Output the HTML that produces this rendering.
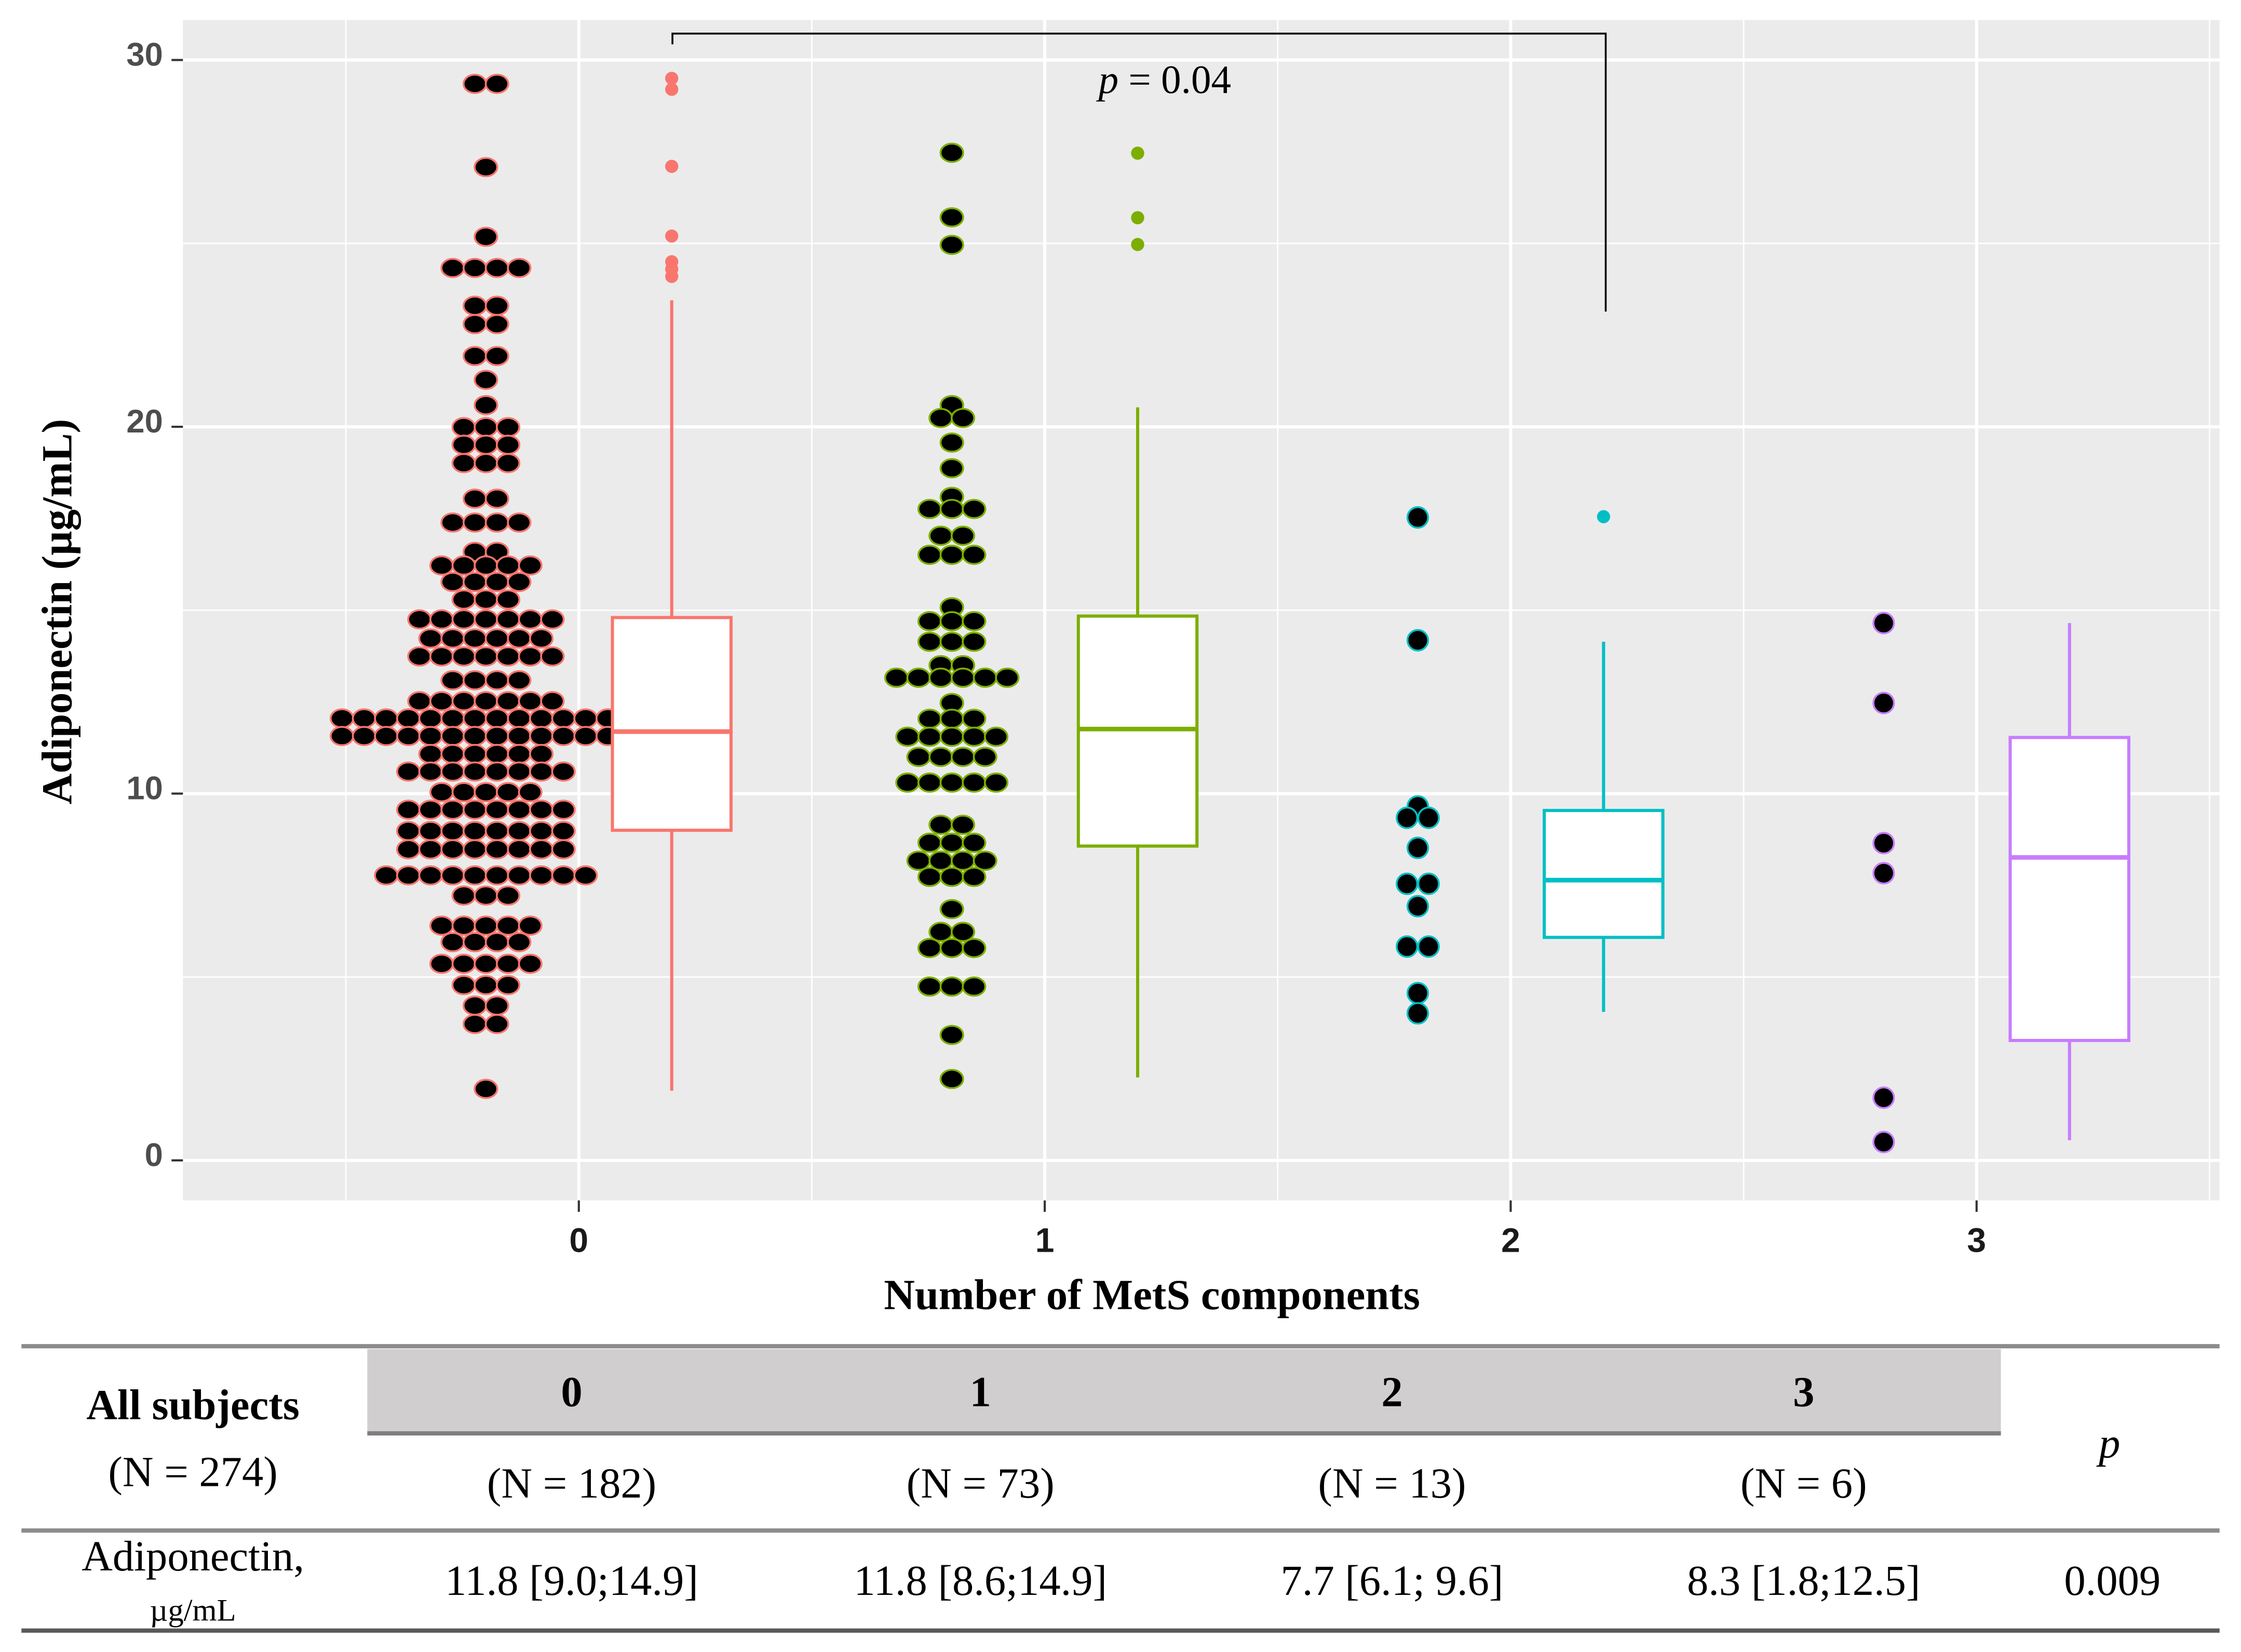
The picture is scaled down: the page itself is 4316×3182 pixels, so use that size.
<!DOCTYPE html>
<html><head><meta charset="utf-8"><style>
html,body{margin:0;padding:0;background:#fff;}
svg{display:block;}
</style></head><body>
<svg id="chart" xmlns="http://www.w3.org/2000/svg" width="4316" height="3182" viewBox="0 0 1568 1156" preserveAspectRatio="none">
<rect x="0" y="0" width="1568" height="1156" fill="#fff"/>
<rect x="128" y="14" width="1425" height="826" fill="#ebebeb"/>
<g id="grid"></g>
<g id="marks"></g>
<g id="axes"></g>
<path d="M470.5 31 V23.5 H1123.5 V218" fill="none" stroke="#000" stroke-width="1.3"/>
<text x="815" y="65" text-anchor="middle" font-family="Liberation Serif, serif" font-size="28"><tspan font-style="italic">p</tspan> = 0.04</text>
<text transform="translate(50,428) rotate(-90)" text-anchor="middle" font-family="Liberation Serif, serif" font-weight="bold" font-size="30">Adiponectin (µg/mL)</text>
<text x="806" y="916" text-anchor="middle" font-family="Liberation Serif, serif" font-weight="bold" font-size="30">Number of MetS components</text>
<g font-family="Liberation Serif, serif" font-size="30" text-anchor="middle" fill="#000">
<line x1="15" y1="942" x2="1553" y2="942" stroke="#8c8c8c" stroke-width="3"/>
<rect x="257" y="944" width="1143" height="59" fill="#d0cece"/>
<line x1="257" y1="1003" x2="1400" y2="1003" stroke="#7f7f7f" stroke-width="3"/>
<text x="135" y="993" font-weight="bold">All subjects</text>
<text x="400" y="984" font-weight="bold">0</text>
<text x="686" y="984" font-weight="bold">1</text>
<text x="974" y="984" font-weight="bold">2</text>
<text x="1262" y="984" font-weight="bold">3</text>
<text x="135" y="1040">(N = 274)</text>
<text x="400" y="1048">(N = 182)</text>
<text x="686" y="1048">(N = 73)</text>
<text x="974" y="1048">(N = 13)</text>
<text x="1262" y="1048">(N = 6)</text>
<text x="1476" y="1020" font-style="italic">p</text>
<line x1="15" y1="1071" x2="1553" y2="1071" stroke="#8c8c8c" stroke-width="3"/>
<text x="135" y="1099">Adiponectin,</text>
<text x="135" y="1134" font-size="22">µg/mL</text>
<text x="400" y="1116">11.8 [9.0;14.9]</text>
<text x="686" y="1116">11.8 [8.6;14.9]</text>
<text x="974" y="1116">7.7 [6.1; 9.6]</text>
<text x="1262" y="1116">8.3 [1.8;12.5]</text>
<text x="1478" y="1116">0.009</text>
<line x1="15" y1="1141" x2="1553" y2="1141" stroke="#595959" stroke-width="3"/>
</g>
</svg>
<script>
const categories = ["0","1","2","3"];
const colors = ["#F8766D","#7CAE00","#00BFC4","#C77CFF"];
const yTicks = [0,10,20,30];
const yMinor = [5,15,25];
const dotVals0 = [29.35,27.08,25.18,24.33,23.3,22.8,21.93,21.28,20.59,19.99,19.51,19.01,18.04,17.39,16.59,16.22,15.77,15.29,14.75,14.23,13.74,13.09,12.52,12.05,11.57,11.08,10.6,10.04,9.56,8.98,8.48,7.77,7.22,6.4,5.95,5.36,4.78,4.22,3.72,1.95];
const dotCnt0 = [2,1,1,4,2,2,2,1,1,3,3,3,2,4,2,5,4,3,7,6,7,4,7,14,14,6,8,5,8,8,8,10,3,5,4,5,3,2,2,1];
const dotVals1 = [27.47,25.71,24.96,20.59,20.24,19.57,18.87,18.09,17.76,17.03,16.51,15.08,14.7,14.14,13.5,13.16,12.47,12.04,11.55,11.0,10.3,9.15,8.66,8.17,7.73,6.85,6.23,5.79,4.74,3.42,2.22];
const dotCnt1 = [1,1,1,1,2,1,1,1,3,2,3,1,3,3,2,6,1,3,5,4,5,2,3,4,3,1,2,3,3,1,1];
const dotVals2 = [17.53,14.18,9.65,9.34,8.52,7.54,6.93,5.83,4.56,4.01];
const dotCnt2 = [1,1,1,2,1,2,1,2,1,1];
const dotVals3 = [14.65,12.47,8.65,7.83,1.71,0.5];
const dotCnt3 = [1,1,1,1,1,1];
const boxLow = [1.9,2.26,4.05,0.55];
const boxQ1 = [9.0,8.57,6.08,3.27];
const boxMed = [11.69,11.76,7.64,8.26];
const boxQ3 = [14.8,14.84,9.54,11.53];
const boxHigh = [23.45,20.53,14.14,14.65];
const outliers0 = [29.5,29.2,27.1,25.2,24.5,24.3,24.1];
const outliers1 = [27.46,25.7,24.97];
const outliers2 = [17.55];
const outliers3 = [];

const NS = "http://www.w3.org/2000/svg";
const yScale = v => 812 - v * 25.667;
const xScale = i => 405 + i * 326;
function mk(tag, attrs, parent){ const e=document.createElementNS(NS,tag); for(const k in attrs) e.setAttribute(k,attrs[k]); parent.appendChild(e); return e; }
const grid=document.getElementById('grid'), marks=document.getElementById('marks'), axes=document.getElementById('axes');

yMinor.forEach(v=>{ const l=mk('line',{x1:128,x2:1553,y1:yScale(v),y2:yScale(v),stroke:'#fff','stroke-width':1},grid);

 });
categories.forEach((c,i)=>{ [-0.5,0.5].forEach(h=>{ if(i>0&&h<0) return; const x=xScale(i+h); const l=mk('line',{x1:x,x2:x,y1:14,y2:840,stroke:'#fff','stroke-width':1},grid);

 }); });
yTicks.forEach(v=>{ const y=yScale(v);
const l=mk('line',{x1:128,x2:1553,y1:y,y2:y,stroke:'#fff','stroke-width':2.2},grid);


const t=mk('line',{x1:120,x2:128,y1:y,y2:y,stroke:'#333','stroke-width':1.5},axes);


const tx=mk('text',{x:114,y:y+4,'text-anchor':'end','font-family':'Liberation Sans, sans-serif','font-weight':'bold','font-size':23,fill:'#4d4d4d'},axes);
tx.textContent=v;

 });
categories.forEach((c,i)=>{ const x=xScale(i);
const l=mk('line',{x1:x,x2:x,y1:14,y2:840,stroke:'#fff','stroke-width':2.2},grid);


const t=mk('line',{x1:x,x2:x,y1:840,y2:848,stroke:'#333','stroke-width':1.5},axes);


const tx=mk('text',{x:x,y:876,'text-anchor':'middle','font-family':'Liberation Sans, sans-serif','font-weight':'bold','font-size':24,fill:'#1a1a1a'},axes);
tx.textContent=c;

 });

const dotVals=[dotVals0,dotVals1,dotVals2,dotVals3], dotCnt=[dotCnt0,dotCnt1,dotCnt2,dotCnt3];
const outl=[outliers0,outliers1,outliers2,outliers3];
categories.forEach((c,g)=>{
  const cx = xScale(g) - 65, bx = xScale(g) + 65, col = colors[g];
  const round = g>=2;
  const rx = round?7.2:7.9, ry = round?7.2:6.4, sp = round?15.1:15.5;
  dotVals[g].forEach((v,r)=>{ const n=dotCnt[g][r];
    for(let k=0;k<n;k++){ const e=mk('ellipse',{cx:cx+(k-(n-1)/2)*sp,cy:yScale(v),rx:rx,ry:ry,fill:'#000',stroke:col,'stroke-width':1.3},marks);
      
       } });
  const w=mk('line',{x1:bx,x2:bx,y1:yScale(boxLow[g]),y2:yScale(boxHigh[g]),stroke:col,'stroke-width':2.2},marks);
  
  
  const b=mk('rect',{x:bx-41.5,y:yScale(boxQ3[g]),width:83,height:yScale(boxQ1[g])-yScale(boxQ3[g]),fill:'#fff',stroke:col,'stroke-width':2.2},marks);
  
  
  const m=mk('line',{x1:bx-41.5,x2:bx+41.5,y1:yScale(boxMed[g]),y2:yScale(boxMed[g]),stroke:col,'stroke-width':3.2},marks);
  
  
  outl[g].forEach(v=>{ const o=mk('circle',{cx:bx,cy:yScale(v),r:4.6,fill:col},marks);
    
     });
});
</script>
</body></html>
